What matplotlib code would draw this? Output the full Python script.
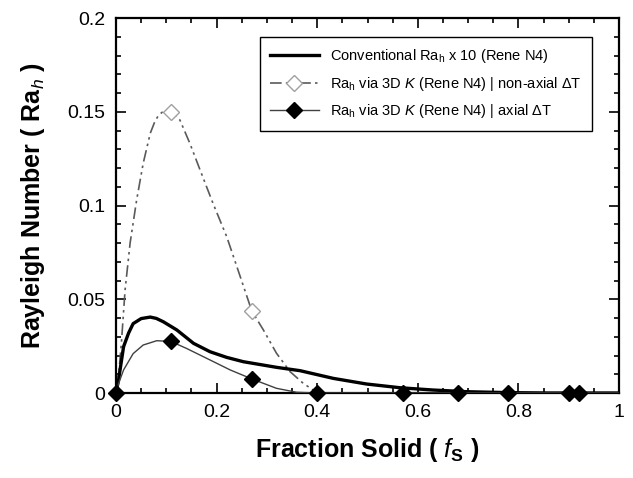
import matplotlib
matplotlib.use("Agg")
import matplotlib.pyplot as plt
from matplotlib.lines import Line2D
from matplotlib.ticker import MultipleLocator

# conventional Ra_h x 10 (Rene N4)
x_conv = [0, 0.005, 0.015, 0.025, 0.034, 0.05, 0.068, 0.08, 0.094, 0.121,
          0.154, 0.187, 0.22, 0.253, 0.319, 0.366, 0.432, 0.498, 0.565, 0.63,
          0.697, 0.78, 0.86, 1.0]
y_conv = [0, 0.007, 0.0247, 0.032, 0.037, 0.0397, 0.0405, 0.0398, 0.038,
          0.0336, 0.0265, 0.022, 0.019, 0.0167, 0.0137, 0.0119, 0.0078,
          0.0048, 0.0028, 0.0016, 0.0007, 0.0002, 0, 0]

# Ra_h via 3D K, non-axial dT
x_na = [0, 0.006, 0.011, 0.018, 0.028, 0.041, 0.054, 0.068, 0.076, 0.084,
        0.092, 0.10, 0.11, 0.127, 0.147, 0.167, 0.193, 0.22, 0.247, 0.27,
        0.293, 0.319, 0.346, 0.372, 0.392, 0.40]
y_na = [0, 0.012, 0.028, 0.055, 0.08, 0.103, 0.1225, 0.1385, 0.144, 0.148,
        0.1498, 0.1505, 0.150, 0.1456, 0.133, 0.119, 0.101, 0.0834, 0.062,
        0.0437, 0.0336, 0.0212, 0.0114, 0.0052, 0.0016, 0]
x_na_pts = [0.11, 0.27]
y_na_pts = [0.150, 0.0437]

# Ra_h via 3D K, axial dT
x_ax = [0, 0.005, 0.015, 0.034, 0.054, 0.081, 0.109, 0.14, 0.187, 0.227,
        0.27, 0.319, 0.359, 0.40, 0.57, 0.68, 0.78, 0.90, 0.92, 1.0]
y_ax = [0, 0.005, 0.0123, 0.021, 0.0256, 0.0279, 0.0275, 0.0238, 0.0176,
        0.0123, 0.0075, 0.0025, 0.0004, 0, 0, 0, 0, 0, 0, 0]
x_ax_pts = [0, 0.109, 0.27, 0.40, 0.57, 0.68, 0.78, 0.90, 0.92]
y_ax_pts = [0, 0.0275, 0.0075, 0, 0, 0, 0, 0, 0]

x_ticks = [0, 0.2, 0.4, 0.6, 0.8, 1.0]
x_ticklabels = ['0', '0.2', '0.4', '0.6', '0.8', '1']
y_ticks = [0, 0.05, 0.1, 0.15, 0.2]
y_ticklabels = ['0', '0.05', '0.1', '0.15', '0.2']

labels = [r'Conventional Ra$_{\mathrm{h}}$ x 10 (Rene N4)',
          r'Ra$_{\mathrm{h}}$ via 3D $K$ (Rene N4) | non-axial $\Delta$T',
          r'Ra$_{\mathrm{h}}$ via 3D $K$ (Rene N4) | axial $\Delta$T']

plt.rcParams['font.family'] = ['Liberation Sans', 'DejaVu Sans']
plt.rcParams['mathtext.fontset'] = 'custom'
plt.rcParams['mathtext.rm'] = 'Liberation Sans'
plt.rcParams['mathtext.it'] = 'Liberation Sans:italic'
plt.rcParams['mathtext.bf'] = 'Liberation Sans:bold'

fig = plt.figure(figsize=(6.33, 4.78), dpi=100)
ax = fig.add_axes([0.1833, 0.1778, 0.7947, 0.7845])

dashdot = (0, (7, 2.5, 1.5, 2.5, 1.5, 2.5))

ax.plot(x_conv, y_conv, color='black', lw=2.4, zorder=3)
ax.plot(x_na, y_na, color='#5a5a5a', lw=1.2, ls=dashdot, zorder=2)
ax.plot(x_na_pts, y_na_pts, ls='none', marker='D', ms=8, mfc='white',
        mec='#a0a0a0', mew=1.0, zorder=4)
ax.plot(x_ax, y_ax, color='#404040', lw=1.0, zorder=3)
ax.plot(x_ax_pts, y_ax_pts, ls='none', marker='D', ms=8, mfc='black',
        mec='black', zorder=5, clip_on=False)

ax.set_xlim(0, 1)
ax.set_ylim(0, 0.2)
ax.set_xticks(x_ticks)
ax.set_xticklabels(x_ticklabels)
ax.set_yticks(y_ticks)
ax.set_yticklabels(y_ticklabels)
ax.xaxis.set_minor_locator(MultipleLocator(0.05))
ax.yaxis.set_minor_locator(MultipleLocator(0.01))
ax.tick_params(which='both', direction='in', top=True, right=True,
               labelsize=14, width=1.2)
ax.tick_params(which='major', length=7, pad=8)
ax.tick_params(which='minor', length=3.5)
for s in ax.spines.values():
    s.set_linewidth(1.6)

ax.set_xlabel(r'Fraction Solid ( $\mathit{f}_{\mathbf{S}}$ )',
              fontsize=18, fontweight='bold', labelpad=11)
ax.set_ylabel(r'Rayleigh Number ( Ra$_{\mathit{h}}$ )',
              fontsize=18, fontweight='bold', labelpad=14)

handles = [
    Line2D([], [], color='black', lw=2.4),
    Line2D([], [], color='#5a5a5a', lw=1.2, ls=dashdot, marker='D', ms=8,
           mfc='white', mec='#a0a0a0'),
    Line2D([], [], color='#404040', lw=1.0, marker='D', ms=8, mfc='black',
           mec='black'),
]
leg = ax.legend(handles, labels, loc='upper right',
                bbox_to_anchor=(0.946, 0.949), borderaxespad=0,
                fancybox=False, edgecolor='black', framealpha=1,
                handlelength=3.3, borderpad=0.7, labelspacing=0.65,
                prop={'family': ['Liberation Sans Narrow', 'Liberation Sans'],
                      'size': 10.5})
leg.get_frame().set_linewidth(1.0)

fig.savefig('out.png', dpi=100)
